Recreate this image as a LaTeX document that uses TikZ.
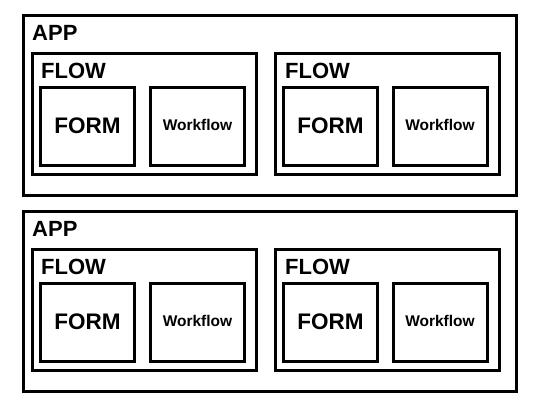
\documentclass[tikz,border=0pt]{standalone}
\usepackage{fontspec}
\setmainfont{Liberation Sans}
\begin{document}
\begin{tikzpicture}[x=1pt,y=-1pt,
  box/.style={draw=black, line width=3pt, fill=none, inner sep=0pt, outer sep=0pt, anchor=north west},
  biglabel/.style={font=\fontsize{22}{24}\selectfont\bfseries, inner sep=0pt, anchor=base west},
  formbox/.style={box, minimum width=94pt, minimum height=78pt, font=\fontsize{22.5}{24}\selectfont\bfseries},
  wfbox/.style={box, minimum width=94pt, minimum height=78pt, font=\fontsize{15.5}{18}\selectfont\bfseries}]
\useasboundingbox (0,0) rectangle (536,408);
\foreach \r/\dy in {1/0, 2/196}{
  \node[box, minimum width=493pt, minimum height=180pt] (app\r) at (23.5,15.5+\dy) {};
  \node[biglabel] (applbl\r) at (32,40+\dy) {APP};
  \node[box, minimum width=224pt, minimum height=121pt] (flowa\r) at (32.5,53.5+\dy) {};
  \node[biglabel] (flowalbl\r) at (41,78+\dy) {FLOW};
  \node[formbox] (forma\r) at (40.5,87.5+\dy) {\raisebox{1.5pt}{FORM}};
  \node[wfbox] (wfa\r) at (150.5,87.5+\dy) {\raisebox{3pt}{Workflow}};
  \node[box, minimum width=224pt, minimum height=121pt] (flowb\r) at (275.5,53.5+\dy) {};
  \node[biglabel] (flowblbl\r) at (285,78+\dy) {FLOW};
  \node[formbox] (formb\r) at (283.5,87.5+\dy) {\raisebox{1.5pt}{FORM}};
  \node[wfbox] (wfb\r) at (393,87.5+\dy) {\raisebox{3pt}{Workflow}};
}
\end{tikzpicture}
\end{document}
